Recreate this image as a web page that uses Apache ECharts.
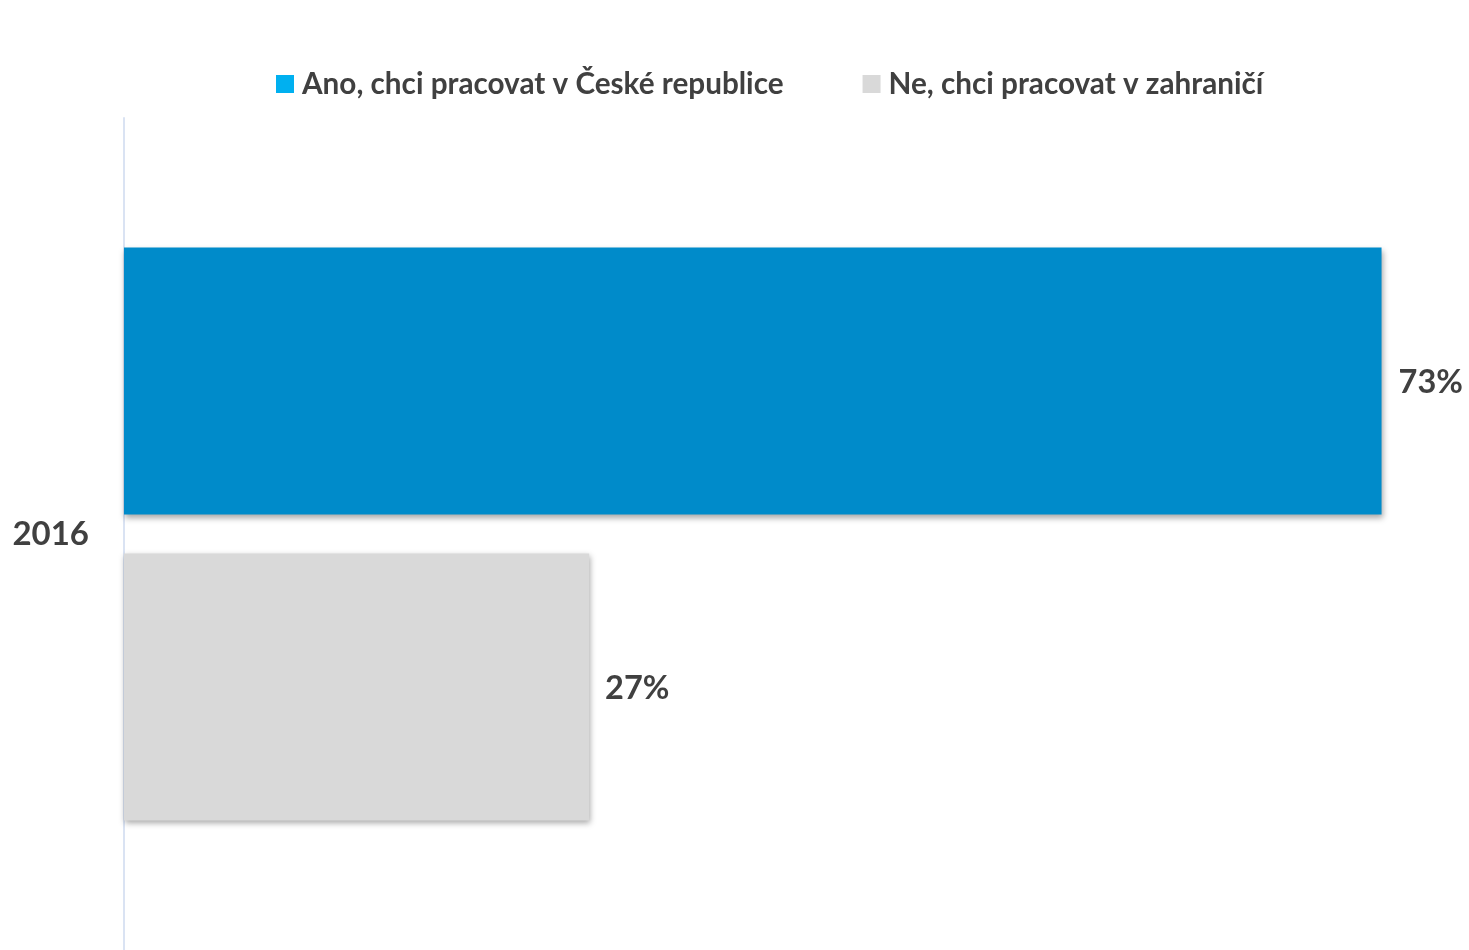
<!DOCTYPE html>
<html>
<head>
<meta charset="utf-8">
<script src="https://cdn.jsdelivr.net/npm/echarts@6/dist/echarts.min.js"></script>
<style>
html,body{margin:0;padding:0;background:#fff;}
#chart{width:1469px;height:950px;}
</style>
</head>
<body>
<div id="chart"></div>
<script>
const categories = ['2016'];
const seriesNames = ['Ano, chci pracovat v České republice', 'Ne, chci pracovat v zahraničí'];
const valuesCR = [73];
const valuesAbroad = [27];

const FONT = 'Lato';
const TXT = '#404040';
const chart = echarts.init(document.getElementById('chart'), null, {renderer: 'canvas'});
const shadow = {shadowBlur: 6, shadowOffsetX: 1, shadowOffsetY: 3, shadowColor: 'rgba(0,0,0,0.35)'};
chart.setOption({
  animation: false,
  backgroundColor: '#ffffff',
  legend: {
    top: 64, left: 271,
    itemWidth: 18, itemHeight: 18, itemGap: 79,
    icon: 'rect',
    textStyle: {fontFamily: FONT, fontWeight: 'bold', fontSize: 29.7, color: TXT, padding: [0,0,0,3]},
    data: [
      {name: seriesNames[0], itemStyle: {color: '#00B0F0'}},
      {name: seriesNames[1], itemStyle: {color: '#D9D9D9'}}
    ]
  },
  grid: {left: 124, top: 118, width: 1292, height: 839, containLabel: false},
  xAxis: {type: 'value', min: 0, max: 75, show: false},
  yAxis: {
    type: 'category', data: categories, inverse: true,
    axisLine: {show: true, lineStyle: {color: '#DAE3F3', width: 2}},
    axisTick: {show: false},
    axisLabel: {margin: 35, fontFamily: FONT, fontWeight: 'bold', fontSize: 33, color: TXT}
  },
  series: [
    {
      name: seriesNames[0], type: 'bar', data: valuesCR, barWidth: 267, barGap: '14.6%',
      itemStyle: Object.assign({color: '#008BCA'}, shadow),
      label: {show: true, position: 'right', distance: 17, offset: [0, 2], formatter: '{c}%', fontFamily: FONT, fontWeight: 'bold', fontSize: 32.5, color: TXT}
    },
    {
      name: seriesNames[1], type: 'bar', data: valuesAbroad, barWidth: 267, barGap: '14.6%',
      itemStyle: Object.assign({color: '#D9D9D9'}, shadow),
      label: {show: true, position: 'right', distance: 16, offset: [0, 2], formatter: '{c}%', fontFamily: FONT, fontWeight: 'bold', fontSize: 32.5, color: TXT}
    }
  ]
});
</script>
</body>
</html>
